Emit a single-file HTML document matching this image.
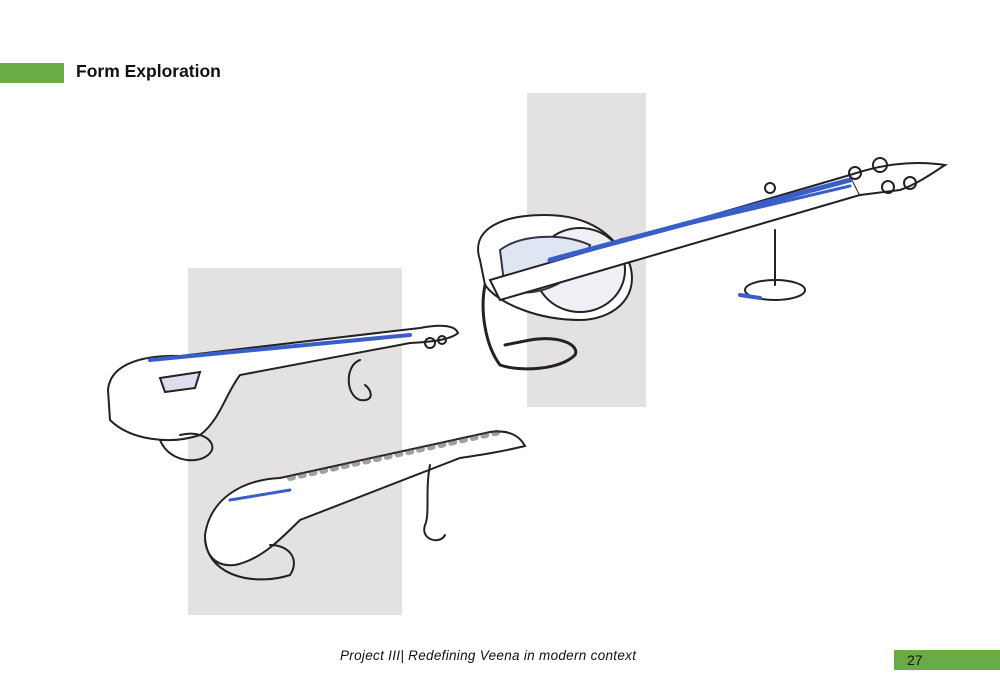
<!DOCTYPE html>
<html><head><meta charset="utf-8"><style>
html,body{margin:0;padding:0;background:#fff;}
#p{position:relative;width:1000px;height:692px;overflow:hidden;background:#fff;font-family:"Liberation Sans",sans-serif;}
.g{position:absolute;background:#6aab45;}
</style></head><body><div id="p">
<div class="g" style="left:0;top:63px;width:64px;height:20px"></div>
<div style="position:absolute;left:76px;top:61px;font-size:17.5px;font-weight:bold;color:#111">Form Exploration</div>
<div style="position:absolute;left:527px;top:93px;width:119px;height:314px;background:#e3e1e2"></div>
<div style="position:absolute;left:188px;top:268px;width:214px;height:347px;background:#e3e1e2"></div>
<svg style="position:absolute;left:0;top:0" width="1000" height="692" fill="none" stroke="#222" stroke-width="2" stroke-linecap="round">
<path d="M480 260 C470 230 500 215 545 215 C590 215 615 235 630 265 C640 300 610 320 580 320 C540 320 500 305 485 285 Z" fill="#fff"/>
<path d="M485 285 C480 310 485 345 500 365 C520 372 560 370 575 355 C580 345 560 335 530 340 L505 345" stroke-width="3"/>
<ellipse cx="580" cy="270" rx="45" ry="42" fill="#eef0f6"/>
<path d="M500 250 C520 235 560 232 590 245 C580 280 540 300 505 290 Z" fill="#dfe5f2" stroke="#334"/>
<path d="M490 280 L850 175 L860 195 L500 300 Z" fill="#fff"/>
<path d="M550 260 L850 180" stroke="#3a5ec8" stroke-width="5"/>
<path d="M620 240 L850 186" stroke="#3a5ec8" stroke-width="3"/>
<path d="M850 175 C880 165 910 160 945 165 C930 175 915 185 900 190 L860 195" fill="#fff"/>
<circle cx="855" cy="173" r="6"/><circle cx="880" cy="165" r="7"/><circle cx="888" cy="187" r="6"/><circle cx="910" cy="183" r="6"/><circle cx="770" cy="188" r="5"/>
<path d="M775 230 L775 285"/><ellipse cx="775" cy="290" rx="30" ry="10"/>
<path d="M740 295 L760 298" stroke="#3a5ec8" stroke-width="4"/>
<path d="M108 390 C110 365 140 355 180 356 L420 328 C440 324 455 325 458 333 C450 340 430 342 410 343 L240 375 C225 395 220 420 200 435 C170 445 130 440 110 420 Z" fill="#fff"/>
<path d="M150 360 L410 335" stroke="#3a5ec8" stroke-width="4"/>
<path d="M160 378 L200 372 L195 388 L165 392 Z" fill="#dde"/>
<path d="M160 440 C170 465 205 465 212 450 C215 440 200 430 180 435"/>
<path d="M360 360 C345 365 345 395 360 400 C375 402 372 390 365 385"/>
<circle cx="430" cy="343" r="5"/><circle cx="442" cy="340" r="4"/>
<path d="M205 535 C210 500 240 480 280 478 L490 432 C505 430 518 433 525 446 C500 452 480 455 460 458 L300 520 C280 540 260 560 235 565 C215 567 205 555 205 535 Z" fill="#fff"/>
<path d="M290 478 L500 432" stroke="#444" stroke-dasharray="3 8" stroke-width="6" opacity=".5"/>
<path d="M230 500 L290 490" stroke="#3a5ec8" stroke-width="3"/>
<path d="M205 540 C210 580 260 585 290 575 C300 560 290 545 270 545"/>
<path d="M430 465 C425 490 430 515 425 525 C420 540 440 545 445 535"/>
</svg>
<div style="position:absolute;left:340px;top:648px;font-size:13.5px;font-style:italic;color:#111;letter-spacing:0.3px">Project III| Redefining Veena in modern context</div>
<div class="g" style="left:894px;top:650px;width:106px;height:20px"></div>
<div style="position:absolute;left:907px;top:652px;font-size:14px;color:#111">27</div>
</div></body></html>
